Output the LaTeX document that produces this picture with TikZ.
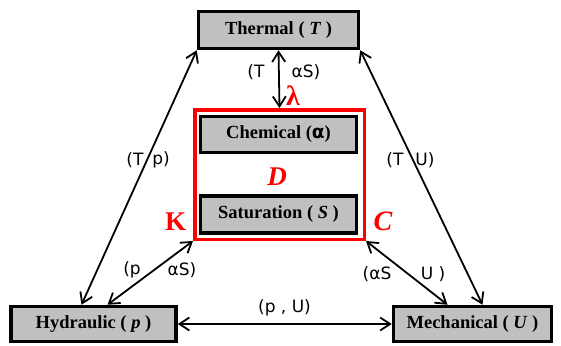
\documentclass[tikz,border=0pt]{standalone}
\usepackage{fontspec}
\setmainfont{Liberation Serif}
\setsansfont{DejaVu Sans}
\usepackage{tikz}
\usetikzlibrary{arrows.meta}
\definecolor{boxgray}{RGB}{192,192,192}

\begin{document}
\begin{tikzpicture}[x=1pt, y=-1pt, line width=1.8pt, >={Straight Barb[length=10pt, width=13pt]},
    fieldbox/.style={draw=black, line width=3.5pt, fill=boxgray, inner sep=0pt, font=\fontsize{18.5}{22}\selectfont\bfseries},
    flux/.style={font=\sffamily\fontsize{17}{20}\selectfont},
    coef/.style={text=red, font=\fontsize{28}{32}\selectfont\bfseries}]
        \useasboundingbox (0,0) rectangle (561,345);
        % Nodes
        \node[draw=red, line width=3.5pt, minimum width=169.5pt, minimum height=129.5pt] (porous) at (279.5, 174.5) {};
        \node[fieldbox, minimum width=160pt, minimum height=37pt] (thermal) at (278.5, 30) {Thermal ( \textit{T} )};
        \node[fieldbox, minimum width=156pt, minimum height=36pt] (chemical) at (278.5, 134.5) {Chemical ({\sffamily α})};
        \node[fieldbox, minimum width=156pt, minimum height=37pt] (saturation) at (278.5, 214.5) {Saturation ( \textit{S} )};
        \node[fieldbox, minimum width=165pt, minimum height=35pt] (hydraulic) at (93.5, 324) {Hydraulic ( \textit{p} )};
        \node[fieldbox, minimum width=158pt, minimum height=35pt] (mechanical) at (472.5, 324) {Mechanical ( \textit{U} )};

        % Coupling coefficients
        \node[coef] (lambda) at (293, 96) {λ};
        \node[coef, font=\fontsize{27}{32}\selectfont\bfseries\itshape] (D) at (277, 177) {D};
        \node[coef, font=\fontsize{27}{32}\selectfont\bfseries] (K) at (175.5, 222) {K};
        \node[coef, font=\fontsize{28}{32}\selectfont\bfseries\itshape] (C) at (383, 221) {C};

        % Coupled edges
        \draw[<->] (thermal.south) -- (porous.north);
        \draw[<->] (thermal.south west) -- ([xshift=-12pt]hydraulic.north);
        \draw[<->] (thermal.south east) -- ([xshift=10pt]mechanical.north);
        \draw[<->] (porous.south west) -- ([xshift=14pt]hydraulic.north);
        \draw[<->] (porous.south east) -- ([xshift=-25pt]mechanical.north);
        \draw[<->] (hydraulic.east) -- (mechanical.west);

        % Edge labels
        \node[flux] (tsl) at (256, 72) {(T};
        \node[flux] (tsr) at (306, 72) {αS)};
        \node[flux] (tpl) at (135, 160) {(T};
        \node[flux] (tpr) at (161, 160) {p)};
        \node[flux] (tul) at (395, 160) {(T};
        \node[flux] (tur) at (425, 160) {U)};
        \node[flux] (psl) at (132, 270) {(p};
        \node[flux] (psr) at (182, 270) {αS)};
        \node[flux] (sul) at (377, 274) {(αS};
        \node[flux] (sur) at (433, 274) {U )};
        \node[flux] (pu) at (284.5, 308) {(p , U)};
\end{tikzpicture}
\end{document}
